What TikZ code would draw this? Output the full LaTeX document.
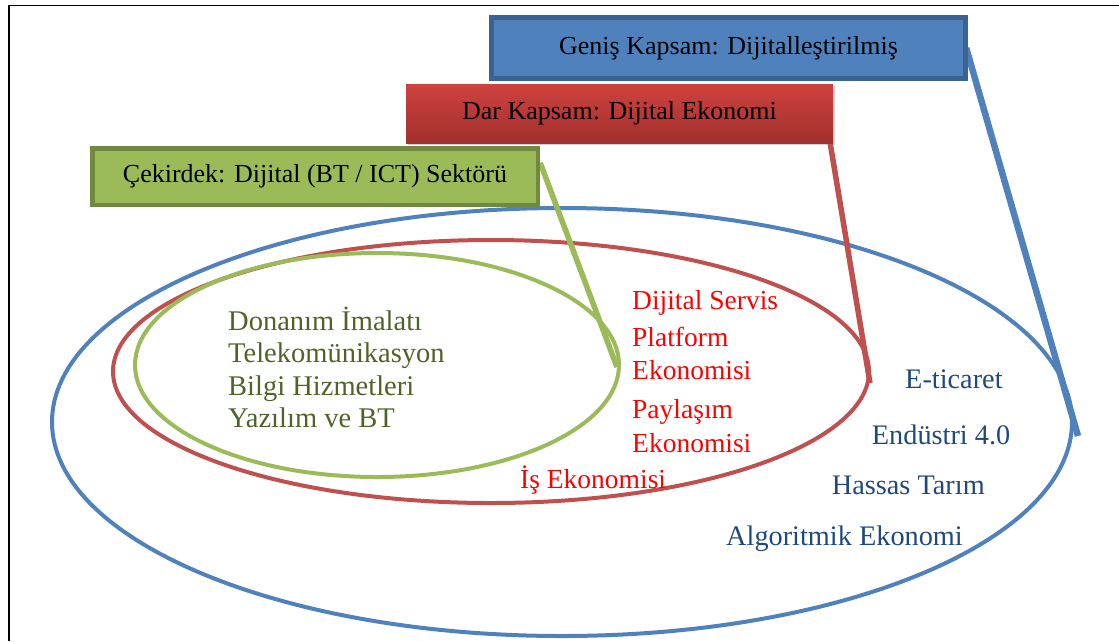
\documentclass[tikz,border=0pt]{standalone}
\usepackage{fontspec}
\setmainfont{Liberation Serif}
\usetikzlibrary{shapes.geometric,shadows}
\definecolor{bluefill}{HTML}{4F81BD}
\definecolor{blueborder}{HTML}{3B6291}
\definecolor{redtop}{HTML}{CE423F}
\definecolor{redbot}{HTML}{A2302D}
\definecolor{redline}{HTML}{C0504D}
\definecolor{greenfill}{HTML}{9BBB59}
\definecolor{greenborder}{HTML}{71893F}
\definecolor{greentext}{HTML}{4F6228}
\definecolor{bluetext}{HTML}{1F497D}
\definecolor{redtext}{HTML}{FF0000}
\begin{document}
\begin{tikzpicture}[x=1pt,y=-1pt,
  ring/.style={draw, ellipse, inner sep=0pt, line width=4pt},
  conn/.style={line width=5.5pt},
  boxshadow/.style={drop shadow={opacity=0.35, shadow xshift=1.5pt, shadow yshift=-2pt}},
  titlebox/.style={rectangle, inner sep=0pt, text=black, font=\fontsize{26}{30}\selectfont, boxshadow},
  lbl/.style={anchor=base west, inner sep=0pt},
  glbl/.style={lbl, text=greentext, font=\fontsize{28.5}{32}\selectfont},
  rlbl/.style={lbl, text=redtext, font=\fontsize{27.5}{32}\selectfont},
  blbl/.style={lbl, text=bluetext, font=\fontsize{28.3}{32}\selectfont},
]
\useasboundingbox (0,0) rectangle (1119,641);
% frame
\draw[line width=1.5pt] (9,641) -- (9,5.5) -- (1119,5.5);

% ellipses
\node[ring, draw=bluefill, minimum width=1020pt, minimum height=428pt] (blueE) at (562,422) {};
\node[ring, draw=redline, minimum width=756pt, minimum height=263pt] (redE) at (491,371.5) {};
\node[ring, draw=greenfill, minimum width=484pt, minimum height=224pt] (greenE) at (377,365) {};

% connector end points on the rings
\coordinate (gend) at (617,367);
\coordinate (rend) at (870,383);
\coordinate (bend) at (1078,436);

% box centres
\path (728.5,48) coordinate (bboxc);
\path (619.5,113.5) coordinate (rboxc);
\path (315,176.5) coordinate (gboxc);

% invisible outlines of the boxes, used as connector starts
\path (bboxc) node[minimum width=479pt, minimum height=66pt, inner sep=0pt] (bboxghost) {};
\path (rboxc) node[minimum width=427pt, minimum height=59pt, inner sep=0pt] (rboxghost) {};
\path (gboxc) node[minimum width=450pt, minimum height=61pt, inner sep=0pt] (gboxghost) {};
\draw[conn, greenfill] ([yshift=-17pt]gboxghost.north east) -- (gend);
\draw[conn, redline] ([xshift=-3pt]rboxghost.south east) -- (rend);
\draw[conn, bluefill, line width=6.5pt] ([xshift=-2pt]bboxghost.east) -- (bend);

% title boxes
\node[titlebox, fill=bluefill, draw=blueborder, line width=5pt,
      minimum width=474pt, minimum height=61pt] (bbox) at (bboxc)
      {Geniş Kapsam: Dijitalleştirilmiş};
\node[titlebox, top color=redtop, bottom color=redbot, draw=none,
      minimum width=427pt, minimum height=59pt] (rbox) at (rboxc)
      {Dar Kapsam: Dijital Ekonomi};
\node[titlebox, fill=greenfill, draw=greenborder, line width=4.5pt,
      minimum width=445.5pt, minimum height=56.5pt] (gbox) at (gboxc)
      {\raisebox{-2.5pt}{Çekirdek: Dijital (BT / ICT) Sektörü}};

% core labels
\node[glbl] (g1) at (228,330) {Donanım İmalatı};
\node[glbl] (g2) at (228,362.5) {Telekomünikasyon};
\node[glbl] (g3) at (228,395) {Bilgi Hizmetleri};
\node[glbl] (g4) at (228,427) {Yazılım ve BT};

% narrow scope labels
\node[rlbl] (r1) at (632,309.3) {Dijital Servis};
\node[rlbl] (r2) at (632,346) {Platform};
\node[rlbl] (r3) at (632,379) {Ekonomisi};
\node[rlbl] (r4) at (632,418) {Paylaşım};
\node[rlbl] (r5) at (632,452) {Ekonomisi};
\node[rlbl] (r6) at (520,488) {İş Ekonomisi};

% broad scope labels
\node[blbl] (b1) at (905,388.3) {E-ticaret};
\node[blbl] (b2) at (871.7,444) {Endüstri 4.0};
\node[blbl] (b3) at (831.7,494.3) {Hassas Tarım};
\node[blbl] (b4) at (726,545) {Algoritmik Ekonomi};
\end{tikzpicture}
\end{document}
